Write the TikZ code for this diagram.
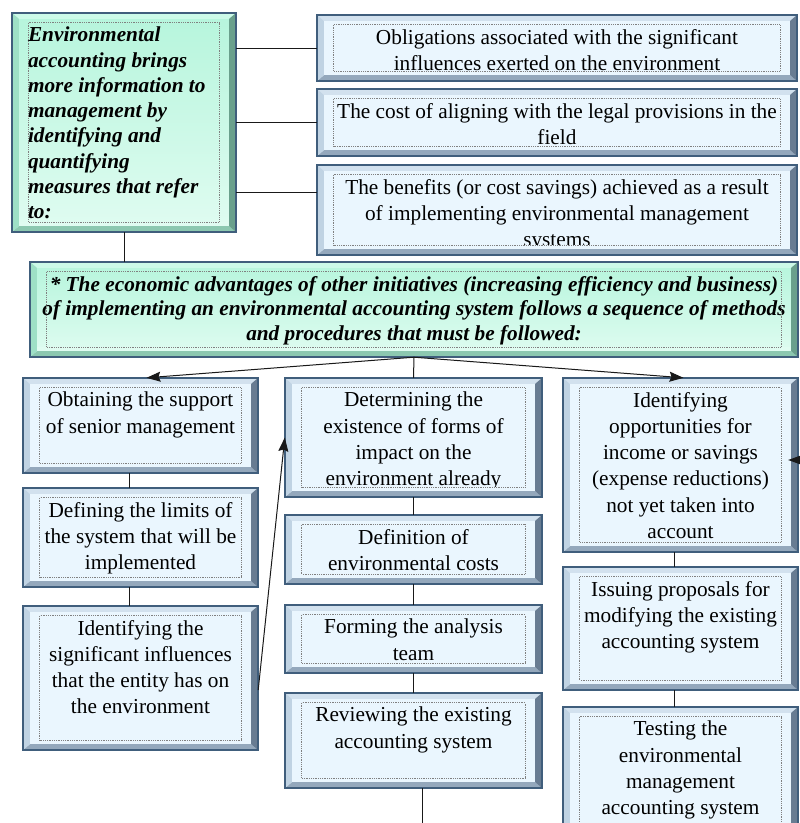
\documentclass[tikz,border=0pt]{standalone}
\usepackage{fontspec}
\setmainfont{Liberation Serif}
\usepackage{tikz}
\usetikzlibrary{arrows.meta}
\usepackage{xcolor}
\definecolor{bluefill}{RGB}{234,246,254}
\definecolor{bluetop}{RGB}{210,225,238}
\definecolor{blueleft}{RGB}{192,211,227}
\definecolor{blueright}{RGB}{104,124,146}
\definecolor{bluebot}{RGB}{148,168,188}
\definecolor{greenmain}{RGB}{182,245,220}
\definecolor{greenfill}{RGB}{224,252,241}
\definecolor{greentop}{RGB}{204,250,232}
\definecolor{greenleft}{RGB}{158,224,198}
\definecolor{greenright}{RGB}{106,160,140}
\definecolor{greenbot}{RGB}{140,200,176}
\definecolor{boxedge}{RGB}{64,94,124}
\tikzstyle{bluebox} = [fill=bluefill, inner sep=0pt, font=\fontsize{21.3}{26.3}\selectfont]
\tikzstyle{greenbox} = [top color=greenmain, middle color=greenmain, bottom color=greenfill, inner sep=0pt, font=\fontsize{21.3}{25.3}\selectfont\bfseries\itshape]
\tikzstyle{line} = [line width=1pt, color=black!90]
\tikzstyle{arrow} = [line, -{Stealth[length=14pt,width=10pt,inset=2pt]}]
% text placed at the top of a box: width, height, text
\newcommand{\boxtext}[3]{\parbox[c][#2][t]{#1}{\centering #3}}
% bevelled frame drawn over a box: node, colour set
\newcommand{\bevel}[2]{%
  \fill[#2fill] (#1.south west) rectangle ([yshift=10pt]#1.south east);
  \fill[#2top] (#1.north west) -- (#1.north east) -- ([shift={(-7pt,-6pt)}]#1.north east) -- ([shift={(7pt,-6pt)}]#1.north west) -- cycle;
  \fill[#2bot] (#1.south west) -- (#1.south east) -- ([shift={(-7pt,6pt)}]#1.south east) -- ([shift={(7pt,6pt)}]#1.south west) -- cycle;
  \fill[#2left] (#1.north west) -- ([shift={(7pt,-6pt)}]#1.north west) -- ([shift={(7pt,6pt)}]#1.south west) -- (#1.south west) -- cycle;
  \fill[#2right] (#1.north east) -- ([shift={(-7pt,-6pt)}]#1.north east) -- ([shift={(-7pt,6pt)}]#1.south east) -- (#1.south east) -- cycle;
  \draw[densely dotted, gray, line width=0.8pt] ([shift={(17pt,-10pt)}]#1.north west) rectangle ([shift={(-17pt,10pt)}]#1.south east);
  \draw[boxedge, line width=1.5pt] (#1.south west) rectangle (#1.north east);
}

\begin{document}
\begin{tikzpicture}[x=1pt, y=-1pt]
\path[use as bounding box, fill=white] (0,0) rectangle (800,823);

% top part
\node[greenbox, minimum width=224pt, minimum height=219pt] (env) at (124,122.5)
  {\parbox[c][191pt][t]{192pt}{\raggedright Environmental\\ accounting brings\\ more information to\\ management by\\ identifying and\\ quantifying\\ measures that refer\\ to:}};
\node[bluebox, minimum width=480pt, minimum height=66pt] (ob) at (557,48)
  {\boxtext{456pt}{38pt}{Obligations associated with the significant\\ influences exerted on the environment}};
\node[bluebox, minimum width=480pt, minimum height=67pt] (co) at (557,122.5)
  {\boxtext{456pt}{39pt}{The cost of aligning with the legal provisions in the\\ field}};
\node[bluebox, minimum width=480pt, minimum height=90pt] (be) at (557,210)
  {\boxtext{456pt}{62pt}{The benefits (or cost savings) achieved as a result\\ of implementing environmental management\\ systems}};
\node[greenbox, minimum width=768pt, minimum height=95pt, font=\fontsize{21.3}{24.5}\selectfont\bfseries\itshape] (adv) at (414,309.5)
  {\boxtext{760pt}{67pt}{* The economic advantages of other initiatives  (increasing efficiency and business)\\ of implementing an environmental accounting system follows a sequence of methods\\ and procedures that must be followed:}};

% left column
\node[bluebox, minimum width=235pt, minimum height=95pt] (l1) at (140.5,425.5)
  {\boxtext{211pt}{67pt}{Obtaining the support\\ of senior management}};
\node[bluebox, minimum width=235pt, minimum height=99pt] (l2) at (140.5,537.5)
  {\boxtext{211pt}{71pt}{Defining the limits of\\ the system that will be\\ implemented}};
\node[bluebox, minimum width=235pt, minimum height=144pt] (l3) at (140.5,678)
  {\boxtext{211pt}{116pt}{Identifying the\\ significant influences\\ that the entity has on\\ the environment}};

% middle column
\node[bluebox, minimum width=257pt, minimum height=119pt] (m1) at (413.5,437.5)
  {\boxtext{233pt}{91pt}{Determining the\\ existence of forms of\\ impact on the\\ environment already}};
\node[bluebox, minimum width=257pt, minimum height=69pt] (m2) at (413.5,549.5)
  {\boxtext{233pt}{41pt}{Definition of\\ environmental costs}};
\node[bluebox, minimum width=257pt, minimum height=68pt] (m3) at (413.5,639)
  {\boxtext{233pt}{40pt}{Forming the analysis\\ team}};
\node[bluebox, minimum width=257pt, minimum height=95pt] (m4) at (413.5,740.5)
  {\boxtext{233pt}{67pt}{Reviewing the existing\\ accounting system}};

% right column
\node[bluebox, minimum width=235pt, minimum height=174pt] (r1) at (680.5,465)
  {\boxtext{211pt}{146pt}{Identifying\\ opportunities for\\ income or savings\\ (expense reductions)\\ not yet taken into\\ account}};
\node[bluebox, minimum width=235pt, minimum height=123pt] (r2) at (680.5,628.5)
  {\boxtext{211pt}{95pt}{Issuing proposals for\\ modifying the existing\\ accounting system}};
\node[bluebox, minimum width=235pt, minimum height=128pt] (r3) at (680.5,771)
  {\boxtext{211pt}{100pt}{Testing the\\ environmental\\ management\\ accounting system}};

% frames
\foreach \n in {env,adv} {\bevel{\n}{green}}
\foreach \n in {ob,co,be,l1,l2,l3,m1,m2,m3,m4,r1,r2,r3} {\bevel{\n}{blue}}

% links
\coordinate (bein) at ([yshift=18pt]be.west);
\draw[line] (ob.west) -- (ob.west -| env.east);
\draw[line] (co.west) -- (co.west -| env.east);
\draw[line] (bein) -- (bein -| env.east);
\draw[line] (env.south) -- (env.south |- adv.north);
\coordinate (split) at (adv.south);
\draw[line] (split) -- (m1.north);
\draw[arrow] (split) -- ([xshift=6pt]l1.north);
\draw[arrow] (split) -- ([xshift=3pt]r1.north);
\foreach \a/\b in {l1/l2,l2/l3} \draw[line] ([xshift=-11pt]\a.south) -- ([xshift=-11pt]\b.north);
\foreach \a/\b in {m1/m2,m2/m3,m3/m4} \draw[line] (\a.south) -- (\b.north);
\foreach \a/\b in {r1/r2,r2/r3} \draw[line] ([xshift=-6.5pt]\a.south) -- ([xshift=-6.5pt]\b.north);
\draw[arrow] ([yshift=-12pt]l3.east) -- (m1.west);
\coordinate (mout) at (422,823);
\draw[line] ([xshift=8.5pt]m4.south) -- (mout);
\coordinate (rin) at (801,460);
\draw[arrow] (rin) -- ([xshift=-10pt,yshift=5pt]r1.east);
\end{tikzpicture}
\end{document}
